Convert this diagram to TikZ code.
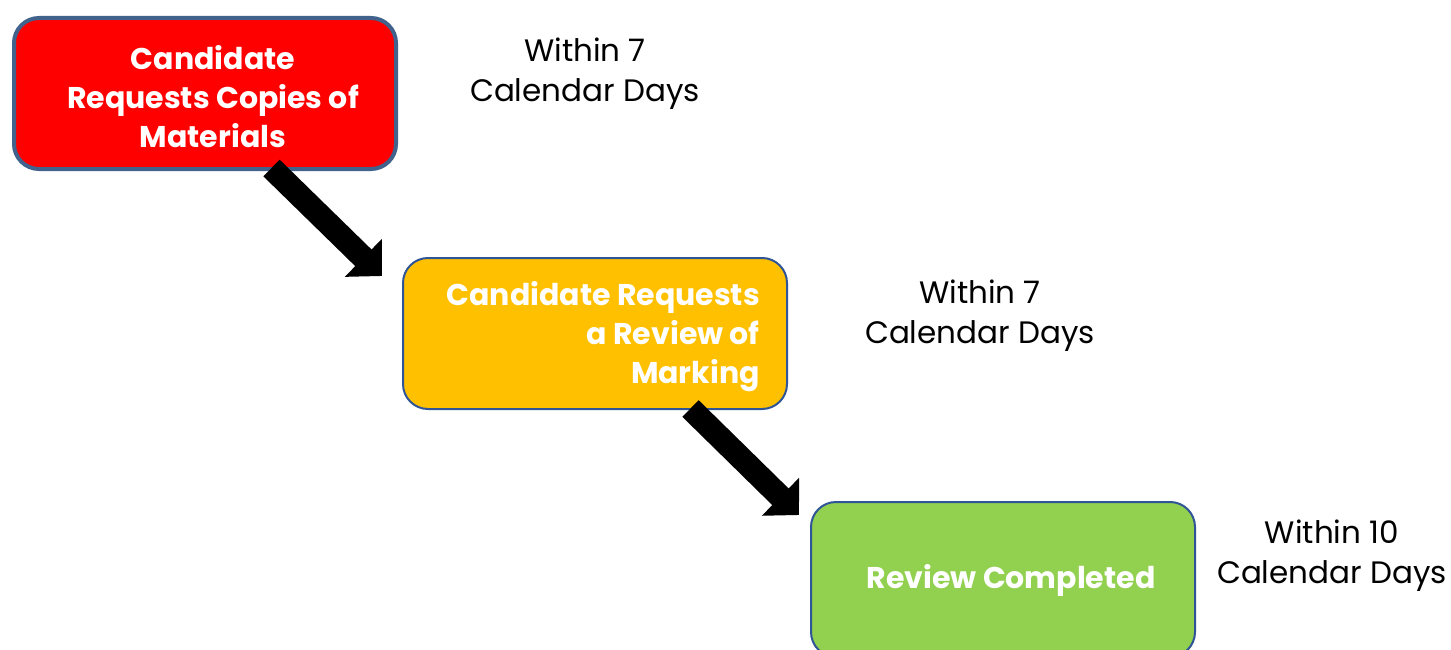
\documentclass[tikz,border=0pt]{standalone}
\usepackage{fontspec}
\setmainfont{Poppins}
\usetikzlibrary{arrows.meta,calc}
\definecolor{boxred}{RGB}{255,0,0}
\definecolor{boxamber}{RGB}{255,192,0}
\definecolor{boxgreen}{RGB}{146,208,80}
\definecolor{edgeblue}{RGB}{47,85,151}
\definecolor{edgesteel}{RGB}{65,98,140}
\begin{document}
\begin{tikzpicture}[x=1pt,y=-1pt,
  stage/.style={draw=edgeblue, line width=2pt, rounded corners=25pt, inner sep=0pt},
  stagetext/.style={text=white, font=\bfseries\fontsize{30}{39}\selectfont, inner sep=0pt},
  timing/.style={text=black, font=\fontsize{31}{40}\selectfont, align=center, inner sep=0pt},
  flow/.style={line width=23.3pt, -{Triangle[width=51.6pt,length=26pt]}}]
\clip (0,0) rectangle (1451,650);
\fill[white] (0,0) rectangle (1451,650);

% process stages
\node[stage, draw=edgesteel, line width=4pt, fill=boxred,
      minimum width=382pt, minimum height=151pt] (b1) at (205,93.5) {};
\node[stage, fill=boxamber, minimum width=384pt, minimum height=151pt] (b2) at (595,333.5) {};
\node[stage, fill=boxgreen, minimum width=384pt, minimum height=155pt] (b3) at (1003,579.5) {};

% stage captions
\node[stagetext, align=center] (t1) at ($(b1.center)+(8,3)$) {Candidate\\Requests Copies of\\Materials};
\node[stagetext, align=right, anchor=east] (t2) at ($(b2.east)+(-28,3.5)$) {Candidate Requests\\a Review of\\Marking};
\node[stagetext] (t3) at ($(b3.center)+(8,0.5)$) {Review Completed};

% time limits
\node[timing] (d1) at (585,74) {Within 7\\Calendar Days};
\node[timing] (d2) at (980,316) {Within 7\\Calendar Days};
\node[timing] (d3) at (1332,556) {Within 10\\Calendar Days};

% arrows between stages
\coordinate (a1s) at ($(b1.south east)+(-126.5,-3)$);
\coordinate (a1e) at ($(b2.north west)+(-20,19)$);
\coordinate (a2s) at ($(b2.south east)+(-97.5,-1.5)$);
\coordinate (a2e) at ($(b3.north west)+(-11,14)$);
\draw[flow] (a1s) -- (a1e);
\draw[flow] (a2s) -- (a2e);
\end{tikzpicture}
\end{document}
